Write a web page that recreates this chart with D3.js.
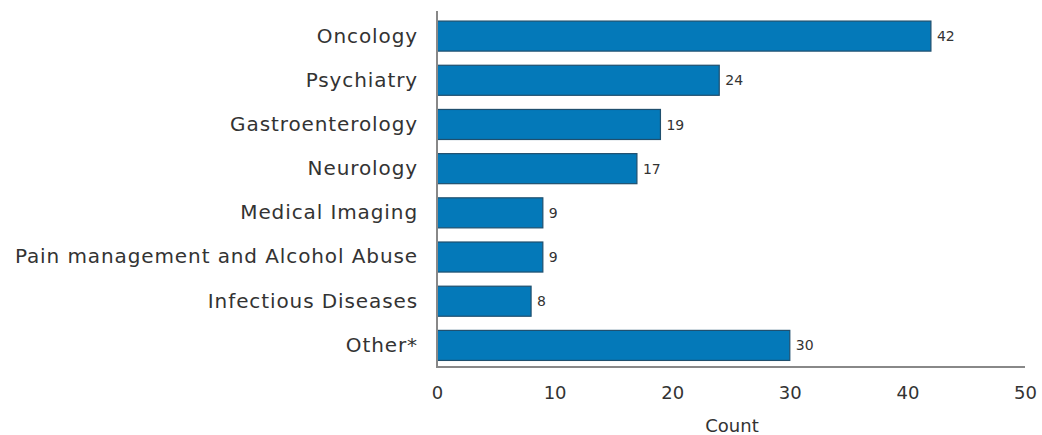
<!DOCTYPE html>
<html><head><meta charset="utf-8">
<script src="https://cdn.jsdelivr.net/npm/d3@7"></script>
<style>body{margin:0;background:#fff;} svg{display:block;}</style>
</head><body>
<svg id="c" width="1042" height="435"></svg>
<script>
const categories = ["Oncology","Psychiatry","Gastroenterology","Neurology","Medical Imaging","Pain management and Alcohol Abuse","Infectious Diseases","Other*"];
const counts = [42,24,19,17,9,9,8,30];
const xTicks = [0,10,20,30,40,50];
const xTitle = "Count";

const font = "DejaVu Sans";
const svg = d3.select("#c");
const x = d3.scaleLinear().domain([0,50]).range([437,1025]);
const y = d3.scaleBand().domain(categories).range([14,367.5]).paddingInner(0.32).paddingOuter(0.16);

svg.selectAll("rect.bar").data(categories).join("rect")
  .attr("class","bar")
  .attr("x", x(0))
  .attr("y", d=>y(d))
  .attr("width", (d,i)=>x(counts[i])-x(0))
  .attr("height", y.bandwidth())
  .attr("fill","#0479b9")
  .attr("stroke","#1f4f6e")
  .attr("stroke-width",1.2);

svg.selectAll("text.val").data(categories).join("text")
  .attr("class","val")
  .attr("x",(d,i)=>x(counts[i])+6)
  .attr("y",d=>y(d)+y.bandwidth()/2)
  .attr("dy","0.36em")
  .attr("font-family",font).attr("font-size",14)
  .attr("fill","#333")
  .text((d,i)=>counts[i]);

const yAxis = svg.append("g").attr("transform",`translate(${x(0)},0)`)
  .call(d3.axisLeft(y).tickSize(0).tickPadding(19));
yAxis.select(".domain").remove();
yAxis.selectAll("text").attr("font-family",font).attr("font-size",20).attr("fill","#333")
  .attr("letter-spacing","0.9px");

const xAxis = svg.append("g").attr("transform","translate(0,367)")
  .call(d3.axisBottom(x).tickValues(xTicks).tickSize(0).tickPadding(19));
xAxis.select(".domain").remove();
xAxis.selectAll("text").attr("font-family",font).attr("font-size",18).attr("fill","#333");

svg.append("line").attr("x1",x(0)).attr("x2",x(0)).attr("y1",11).attr("y2",367)
  .attr("stroke","#888").attr("stroke-width",2);
svg.append("line").attr("x1",x(0)-1).attr("x2",x(50)).attr("y1",367).attr("y2",367)
  .attr("stroke","#888").attr("stroke-width",2);

svg.append("text").attr("x",732).attr("y",432).attr("text-anchor","middle")
  .attr("font-family",font).attr("font-size",18).attr("fill","#333").text(xTitle);
</script>
</body></html>
